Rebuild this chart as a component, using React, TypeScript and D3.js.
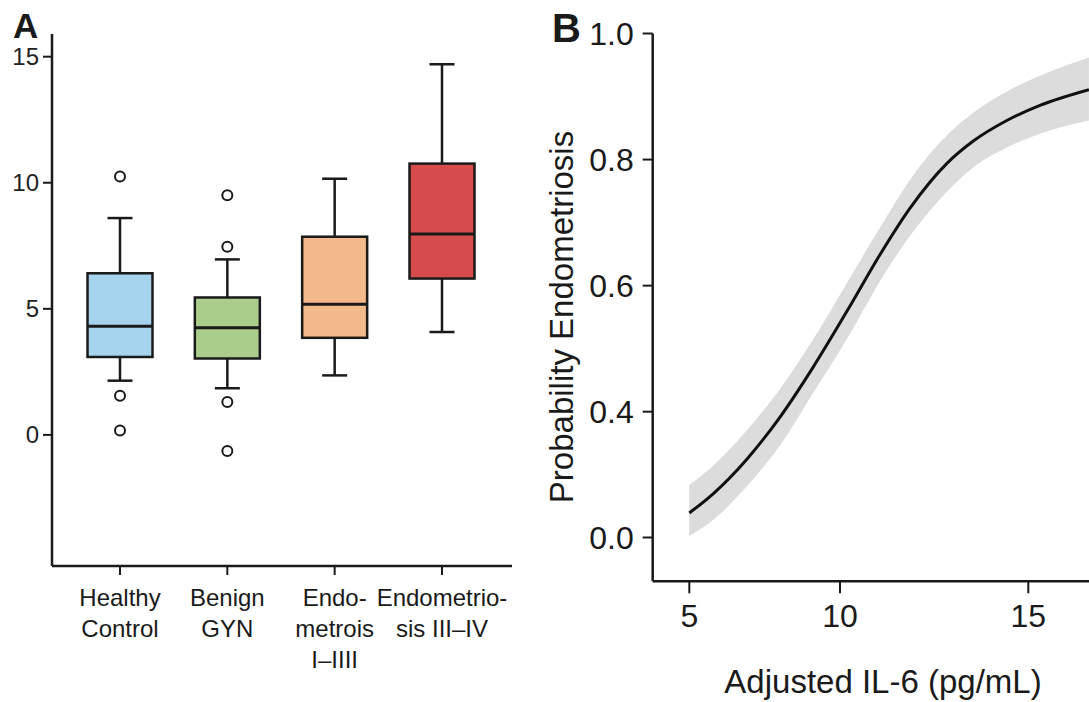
import React from "react";
import * as d3 from "d3";

const W = 1089;
const H = 702;
const FONT = "'Liberation Sans', Arial, Helvetica, sans-serif";
const INK = "#1a1a1a";

// panel A: IL-6 by group (box plot summary)
const groups = ["Healthy Control", "Benign GYN", "Endometrois I–IIII", "Endometriosis III–IV"];
const groupLabels = [
  ["Healthy", "Control"],
  ["Benign", "GYN"],
  ["Endo-", "metrois", "I–IIII"],
  ["Endometrio-", "sis III–IV"],
];
const groupColors = ["#a6d4ee", "#abcd8c", "#f2b98a", "#d64b4b"];
const q1 = [3.09, 3.03, 3.85, 6.2];
const medians = [4.31, 4.25, 5.18, 7.97];
const q3 = [6.41, 5.45, 7.86, 10.76];
const whiskerLow = [2.15, 1.85, 2.36, 4.08];
const whiskerHigh = [8.6, 6.96, 10.16, 14.7];
const outliers = [[10.25, 1.55, 0.17], [9.5, 7.46, 1.3, -0.64], [], []];
const yTicksA = [0, 5, 10, 15];

// panel B: fitted probability curve with confidence band
const il6 = [5, 5.79, 6.91, 8.01, 9.1, 10.27, 11.06, 11.86, 12.84, 13.53, 14.43, 15.31, 16.61];
const prob = [0.078, 0.139, 0.249, 0.383, 0.47, 0.568, 0.649, 0.723, 0.794, 0.829, 0.862, 0.886, 0.911];
const probLow = [0.005, 0.056, 0.163, 0.293, 0.429, 0.524, 0.607, 0.679, 0.749, 0.787, 0.819, 0.841, 0.862];
const probHigh = [0.167, 0.228, 0.341, 0.436, 0.514, 0.613, 0.692, 0.768, 0.839, 0.874, 0.908, 0.933, 0.962];
const xTicksB = [5, 10, 15];
const yTicksB = [0, 0.4, 0.6, 0.8, 1.0];

function PanelA() {
  const left = 52;
  const right = 512;
  const top = 34;
  const bottom = 566;
  const boxW = 65;
  const capW = 25;

  const x = d3.scalePoint<string>().domain(groups).range([120, 442]);
  const y = d3.scaleLinear().domain([-5.2, 15.9]).range([bottom, top]);

  return (
    <g>
      <text x={13} y={38} fontSize={35} fontWeight="bold" fill={INK}>A</text>

      {groups.map((g, i) => {
        const cx = x(g)!;
        return (
          <g key={g}>
            <line x1={cx} x2={cx} y1={y(q3[i])} y2={y(whiskerHigh[i])} stroke={INK} strokeWidth={2.5} />
            <line x1={cx} x2={cx} y1={y(q1[i])} y2={y(whiskerLow[i])} stroke={INK} strokeWidth={2.5} />
            <line x1={cx - capW / 2} x2={cx + capW / 2} y1={y(whiskerHigh[i])} y2={y(whiskerHigh[i])} stroke={INK} strokeWidth={2.5} />
            <line x1={cx - capW / 2} x2={cx + capW / 2} y1={y(whiskerLow[i])} y2={y(whiskerLow[i])} stroke={INK} strokeWidth={2.5} />
            <rect
              x={cx - boxW / 2}
              y={y(q3[i])}
              width={boxW}
              height={y(q1[i]) - y(q3[i])}
              fill={groupColors[i]}
              stroke={INK}
              strokeWidth={2.5}
            />
            <line x1={cx - boxW / 2} x2={cx + boxW / 2} y1={y(medians[i])} y2={y(medians[i])} stroke={INK} strokeWidth={3} />
            {outliers[i].map((v, j) => (
              <circle key={j} cx={cx} cy={y(v)} r={5} fill="#fff" stroke={INK} strokeWidth={2} />
            ))}
          </g>
        );
      })}

      {/* axes */}
      <line x1={left} x2={left} y1={top} y2={bottom} stroke={INK} strokeWidth={2.5} />
      <line x1={left} x2={right} y1={bottom} y2={bottom} stroke={INK} strokeWidth={2.5} />
      {yTicksA.map((t) => (
        <g key={t}>
          <line x1={left - 9} x2={left} y1={y(t)} y2={y(t)} stroke={INK} strokeWidth={2} />
          <text x={left - 13} y={y(t)} dy="0.35em" textAnchor="end" fontSize={24} fill="#222">
            {t}
          </text>
        </g>
      ))}
      {groups.map((g, i) => (
        <g key={g}>
          <line x1={x(g)} x2={x(g)} y1={bottom} y2={bottom + 9} stroke={INK} strokeWidth={2} />
          <text x={x(g)} y={606} textAnchor="middle" fontSize={24} fill={INK}>
            {groupLabels[i].map((s, k) => (
              <tspan key={k} x={x(g)} dy={k === 0 ? 0 : 31}>
                {s}
              </tspan>
            ))}
          </text>
        </g>
      ))}
    </g>
  );
}

function PanelB() {
  const left = 652.7;
  const right = W;
  const top = 33.5;
  const bottom = 581.3;

  // the figure's axes are not evenly spaced, so both scales are piecewise
  const x = d3.scaleLinear().domain([5, 10, 15]).range([689.3, 840, 1028.3]);
  const y = d3.scaleLinear().domain([0, 0.4, 1]).range([537.5, 411.7, top]);

  const idx = d3.range(il6.length);
  const band = d3
    .area<number>()
    .x((i) => x(il6[i]))
    .y0((i) => y(probLow[i]))
    .y1((i) => y(probHigh[i]))
    .curve(d3.curveMonotoneX);
  const line = d3
    .line<number>()
    .x((i) => x(il6[i]))
    .y((i) => y(prob[i]))
    .curve(d3.curveMonotoneX);

  return (
    <g>
      <text x={552} y={42} fontSize={40} fontWeight="bold" fill={INK}>B</text>

      <path d={band(idx) ?? ""} fill="#dcdcdc" />
      <path d={line(idx) ?? ""} fill="none" stroke="#111" strokeWidth={3} />

      <line x1={left} x2={left} y1={top} y2={bottom} stroke={INK} strokeWidth={2.5} />
      <line x1={left} x2={right} y1={bottom} y2={bottom} stroke={INK} strokeWidth={2.5} />
      {yTicksB.map((t) => (
        <g key={t}>
          <line x1={left - 10} x2={left} y1={y(t)} y2={y(t)} stroke={INK} strokeWidth={2} />
          <text x={left - 19} y={y(t)} dy="0.35em" textAnchor="end" fontSize={32} fill={INK}>
            {d3.format(".1f")(t)}
          </text>
        </g>
      ))}
      {xTicksB.map((t) => (
        <g key={t}>
          <line x1={x(t)} x2={x(t)} y1={bottom} y2={bottom + 12} stroke={INK} strokeWidth={2} />
          <text x={x(t)} y={626.7} textAnchor="middle" fontSize={32} fill={INK}>
            {t}
          </text>
        </g>
      ))}

      <text transform="translate(573,317) rotate(-90)" textAnchor="middle" fontSize={33} fill={INK}>
        Probability Endometriosis
      </text>
      <text x={883} y={693} textAnchor="middle" fontSize={33} fill={INK}>
        Adjusted IL-6 (pg/mL)
      </text>
    </g>
  );
}

export default function App() {
  return (
    <svg
      width={W}
      height={H}
      viewBox={`0 0 ${W} ${H}`}
      style={{ position: "absolute", left: 0, top: 0, display: "block", background: "#fff" }}
      fontFamily={FONT}
    >
      <rect width={W} height={H} fill="#fff" />
      <PanelA />
      <PanelB />
    </svg>
  );
}
